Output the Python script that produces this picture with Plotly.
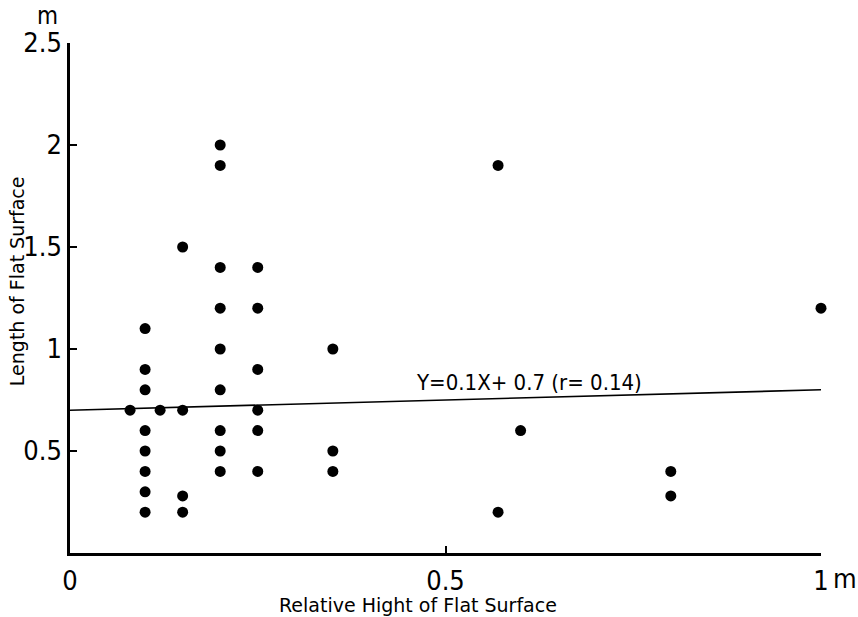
import plotly.graph_objects as go

# Relative height of flat surface (m) and length of flat surface (m)
rel_height = [0.08, 0.10, 0.10, 0.10, 0.10, 0.10, 0.10, 0.10, 0.10, 0.12,
              0.15, 0.15, 0.15, 0.15,
              0.20, 0.20, 0.20, 0.20, 0.20, 0.20, 0.20, 0.20, 0.20,
              0.25, 0.25, 0.25, 0.25, 0.25, 0.25,
              0.35, 0.35, 0.35,
              0.57, 0.57, 0.60, 0.80, 0.80, 1.00]
length = [0.70, 1.10, 0.90, 0.80, 0.60, 0.50, 0.40, 0.30, 0.20, 0.70,
          1.50, 0.70, 0.28, 0.20,
          2.00, 1.90, 1.40, 1.20, 1.00, 0.80, 0.60, 0.50, 0.40,
          1.40, 1.20, 0.90, 0.70, 0.60, 0.40,
          1.00, 0.50, 0.40,
          1.90, 0.20, 0.60, 0.40, 0.28, 1.20]

slope = 0.1
intercept = 0.7
fit_x = [0.0, 1.0]
fit_y = [slope * v + intercept for v in fit_x]

x_tickvals = [0, 0.5, 1]
x_ticktext = ["0", "0.5", "1"]
y_tickvals = [0.5, 1, 1.5, 2, 2.5]
y_ticktext = ["0.5", "1", "1.5", "2", "2.5"]

num_font = "DejaVu Sans Condensed, Liberation Sans Narrow, Arial Narrow, Liberation Sans, sans-serif"
txt_font = "DejaVu Sans, Liberation Sans, Arial, sans-serif"

fig = go.Figure()
fig.add_trace(go.Scatter(x=fit_x, y=fit_y, mode="lines",
                         line=dict(color="black", width=1.6),
                         hoverinfo="skip", showlegend=False))
fig.add_trace(go.Scatter(x=rel_height, y=length, mode="markers",
                         marker=dict(color="black", size=11),
                         cliponaxis=False, showlegend=False))

fig.update_layout(
    width=858, height=617,
    margin=dict(l=70, r=37, t=43, b=64),
    paper_bgcolor="white", plot_bgcolor="white",
    showlegend=False,
    xaxis=dict(range=[0, 1], tickvals=x_tickvals, ticktext=x_ticktext,
               showgrid=False, zeroline=False, showline=True,
               linecolor="black", linewidth=2.5,
               ticks="inside", ticklen=7, tickwidth=2, tickcolor="black",
               tickfont=dict(family=num_font, size=27, color="black"),
               ticklabelstandoff=2),
    yaxis=dict(range=[0, 2.5], tickvals=y_tickvals, ticktext=y_ticktext,
               showgrid=False, zeroline=False, showline=True,
               linecolor="black", linewidth=2.5,
               ticks="inside", ticklen=7, tickwidth=2, tickcolor="black",
               tickfont=dict(family=num_font, size=27, color="black"),
               ticklabelstandoff=0),
    annotations=[
        dict(text="Y=0.1X+ 0.7 (r= 0.14)", xref="paper", yref="paper",
             x=0.458, y=0.335, xanchor="left", yanchor="middle",
             showarrow=False, font=dict(family=num_font, size=22, color="black")),
        dict(text="Relative Hight of Flat Surface", xref="paper", yref="paper",
             x=0.463, y=-0.102, xanchor="center", yanchor="middle",
             showarrow=False, font=dict(family=txt_font, size=19, color="black")),
        dict(text="Length of Flat Surface", xref="paper", yref="paper",
             x=-0.0706, y=0.533, xanchor="center", yanchor="middle", textangle=-90,
             showarrow=False, font=dict(family=txt_font, size=19, color="black")),
        dict(text="m", xref="paper", yref="paper",
             x=-0.0293, y=1.0, yshift=11, xanchor="center", yanchor="bottom",
             showarrow=False, font=dict(family=num_font, size=24, color="black")),
        dict(text="m", xref="paper", yref="paper",
             x=1.013, y=-0.05, xanchor="left", yanchor="middle",
             showarrow=False, font=dict(family=num_font, size=27, color="black")),
    ],
)

fig.write_html("out.html")
